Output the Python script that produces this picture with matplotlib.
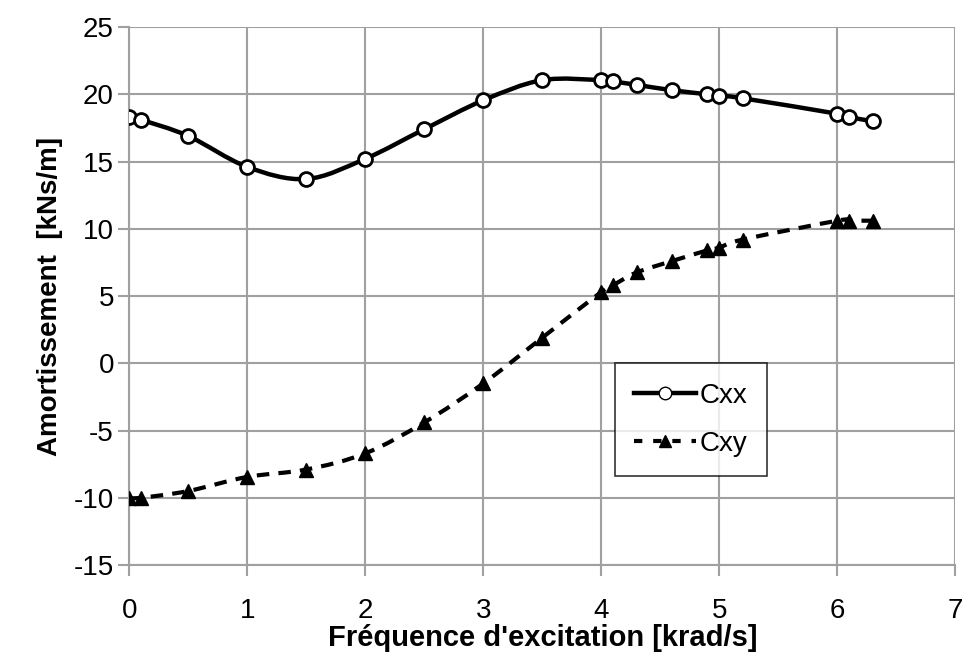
import numpy as np
import matplotlib
matplotlib.use('Agg')
import matplotlib.pyplot as plt
from matplotlib.path import Path
from matplotlib.patches import PathPatch
from matplotlib.lines import Line2D

plt.rcParams['font.family'] = ['Liberation Sans', 'DejaVu Sans']
plt.rcParams['axes.unicode_minus'] = False

# data
freq = [0.0, 0.1, 0.5, 1.0, 1.5, 2.0, 2.5, 3.0, 3.5, 4.0, 4.1, 4.3, 4.6, 4.9, 5.0, 5.2, 6.0, 6.1, 6.3]
cxx = [18.3, 18.1, 16.9, 14.6, 13.7, 15.2, 17.4, 19.55, 21.05, 21.05, 20.95, 20.7, 20.3, 20.0, 19.9, 19.7, 18.55, 18.3, 18.0]
cxy = [-10.0, -10.0, -9.5, -8.45, -7.9, -6.7, -4.4, -1.5, 1.9, 5.3, 5.8, 6.75, 7.6, 8.4, 8.6, 9.2, 10.6, 10.6, 10.6]
xticks = [0, 1, 2, 3, 4, 5, 6, 7]
yticks = [-15, -10, -5, 0, 5, 10, 15, 20, 25]


def smooth_path(x, y):
    # Bezier segments like a spreadsheet "smoothed line"
    p = np.column_stack([x, y])
    verts = [p[0]]
    codes = [Path.MOVETO]
    n = len(p)
    for i in range(n - 1):
        p0 = p[i - 1] if i > 0 else p[i]
        p3 = p[i + 2] if i + 2 < n else p[i + 1]
        c1 = p[i] + (p[i + 1] - p0) / 6
        c2 = p[i + 1] - (p3 - p[i]) / 6
        verts += [c1, c2, p[i + 1]]
        codes += [Path.CURVE4] * 3
    return Path(verts, codes)


fig = plt.figure(figsize=(9.64, 6.62), dpi=100)
ax = fig.add_axes([0.134, 0.1465, 0.857, 0.8127])

ax.add_patch(PathPatch(smooth_path(freq, cxx), fill=False, lw=3.2, color='black', zorder=3))
ax.add_patch(PathPatch(smooth_path(freq, cxy), fill=False, lw=3.0, color='black',
                       linestyle=(0, (3, 2.2)), zorder=3))
ax.plot(freq, cxx, ls='none', marker='o', ms=10, mfc='white', mec='black', mew=2, zorder=4)
ax.plot(freq, cxy, ls='none', marker='^', ms=10.5, mfc='black', mec='black', zorder=4)

ax.set_xlim(0, 7)
ax.set_ylim(-15, 25)
ax.set_xticks(xticks)
ax.set_yticks(yticks)
ax.grid(True, color='#a0a0a0', lw=1.5)
ax.set_axisbelow(True)
for s in ['top', 'right']:
    ax.spines[s].set_visible(False)
for s in ['left', 'bottom']:
    ax.spines[s].set_color('#a0a0a0')
    ax.spines[s].set_linewidth(1.5)
ax.tick_params(axis='both', which='major', labelsize=20, color='#a0a0a0', width=1.5, length=8)
ax.tick_params(axis='x', pad=16)
ax.tick_params(axis='y', pad=3)
ax.set_xlabel("Fréquence d'excitation [krad/s]", fontsize=21, fontweight='bold', labelpad=0)
ax.set_ylabel("Amortissement  [kNs/m]", fontsize=20, fontweight='bold', labelpad=8)

handles = [
    Line2D([], [], color='black', lw=3.2, marker='o', ms=9, mfc='white', mec='black', mew=1),
    Line2D([], [], color='black', lw=3.0, linestyle=(0, (2, 2.6)), marker='^', ms=8, mfc='black', mec='black'),
]
leg = ax.legend(handles, ['Cxx', 'Cxy'], loc='upper left', bbox_to_anchor=(0.588, 0.375),
                fontsize=20, frameon=True, fancybox=False, handlelength=2.2, handletextpad=0.15,
                labelspacing=0.8, borderpad=0.7, borderaxespad=0)
leg.get_frame().set_edgecolor('black')
leg.get_frame().set_linewidth(1.2)

fig.savefig('out.png', dpi=100)
